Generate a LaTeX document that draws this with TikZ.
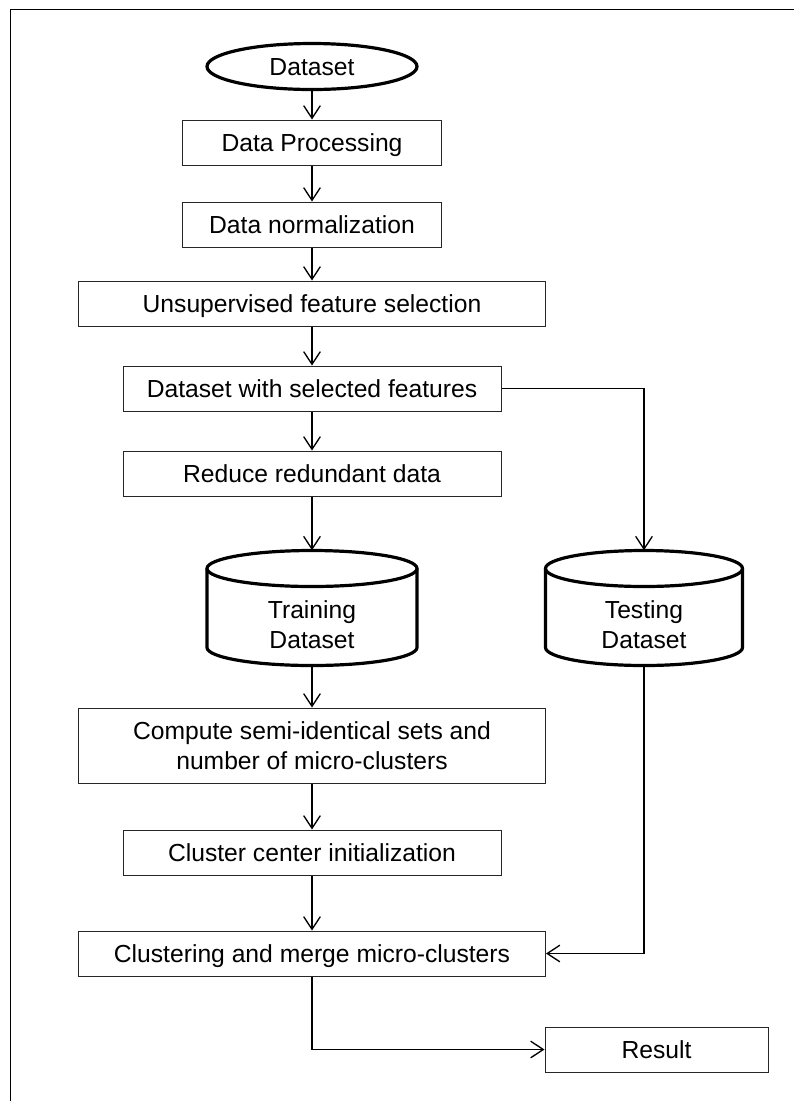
\documentclass[tikz,border=0pt]{standalone}
\usepackage{fontspec}
\setmainfont{Liberation Sans}
\usetikzlibrary{arrows.meta,shapes.geometric}

\tikzset{
  txt/.style={font=\fontsize{18.5}{22.5}\selectfont, align=center},
  oneline/.style={text height=13.2pt, text depth=0pt},
  frame/.style={txt, draw=black!85, line width=0.75pt, inner sep=0pt},
  box/.style={frame, oneline, minimum height=33.75pt},
  startend/.style={txt, oneline, ellipse, draw, line width=2.4pt, minimum width=157.5pt, minimum height=34.5pt, inner sep=0pt},
  dbase/.style={inner sep=0pt, minimum height=86.25pt},
  dbline/.style={draw, line width=2.4pt},
  flow/.style={draw, line width=1pt, -{Straight Barb[length=9.5pt,width=12.5pt]}}
}

\begin{document}
\begin{tikzpicture}[x=0.75pt,y=0.75pt,yscale=-1,xscale=1]
\useasboundingbox (0,0) rectangle (794,1101);
%Frame
\draw[line width=0.75pt] (10.5,1101) -- (10.5,9) -- (794,9);

%Terminal
\node[startend] (data) at (312,66.5) {Dataset};

%Processes
\node[box, minimum width=194.25pt] (proc) at (312,142.5) {Data Processing};
\node[box, minimum width=194.25pt] (norm) at (312,224.5) {Data normalization};
\node[box, minimum width=350.25pt] (fsel) at (312,303.5) {Unsupervised feature selection};
\node[box, minimum width=283.5pt] (sel) at (312,388.5) {Dataset with selected features};
\node[box, minimum width=283.5pt] (red) at (312,473.5) {Reduce redundant data};

%Databases
\node[dbase, minimum width=157.5pt] (train) at (312,608) {};
\node[dbase, minimum width=147.75pt] (test) at (644,608) {};
\draw[dbline] (207,568.5) -- (207,647.5) arc[start angle=180, end angle=0, x radius=105, y radius=18] -- (417,568.5);
\draw[dbline] (312,568.5) ellipse (105 and 18);
\draw[dbline] (545.5,568.5) -- (545.5,647.5) arc[start angle=180, end angle=0, x radius=98.5, y radius=18] -- (742.5,568.5);
\draw[dbline] (644,568.5) ellipse (98.5 and 18);
\node[txt] (trainlbl) at (312,624.5) {Training\\Dataset};
\node[txt] (testlbl) at (644,624.5) {Testing\\Dataset};

%Clustering steps
\node[frame, minimum width=350.25pt, minimum height=56.25pt] (comp) at (312,745.5) {Compute semi-identical sets and\\number of micro-clusters};
\node[box, minimum width=283.5pt] (init) at (312,852.5) {Cluster center initialization};
\node[box, minimum width=350.25pt] (clus) at (312,953.5) {Clustering and merge micro-clusters};
\node[box, minimum width=167.25pt] (res) at (656.5,1049.5) {Result};

%Connectors
\draw[flow] (data) -- (proc);
\draw[flow] (proc) -- (norm);
\draw[flow] (norm) -- (fsel);
\draw[flow] (fsel) -- (sel);
\draw[flow] (sel) -- (red);
\draw[flow] (red) -- (train);
\draw[flow] (train) -- (comp);
\draw[flow] (comp) -- (init);
\draw[flow] (init) -- (clus);
\draw[flow] (sel.east) -| (test.north);
\draw[flow] (test.south) |- (clus.east);
\draw[flow] (clus.south) |- (res.west);
\end{tikzpicture}
\end{document}
